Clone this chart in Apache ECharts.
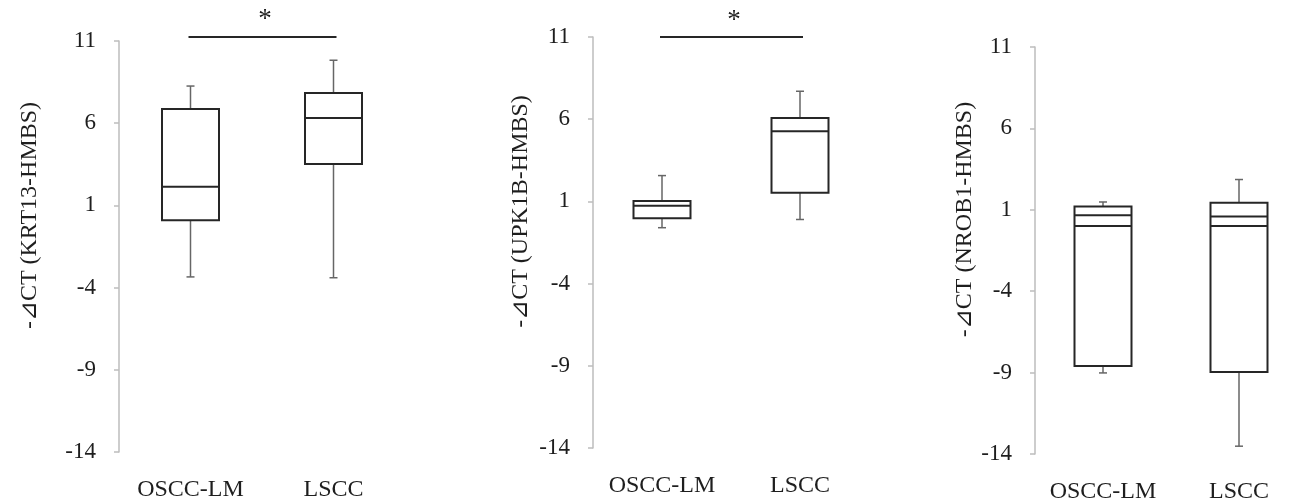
<!DOCTYPE html>
<html>
<head>
<meta charset="utf-8">
<script src="https://cdn.jsdelivr.net/npm/echarts@6/dist/echarts.min.js"></script>
<style>
  html, body { margin: 0; padding: 0; background: #fff; }
  #chart { width: 1307px; height: 504px; }
</style>
</head>
<body>
<div id="chart"></div>
<script>
// groups on the x axis
const categories = ['OSCC-LM', 'LSCC'];
// y ticks: -14 .. 11 step 5
const yMin = -14;
const yMax = 11;
const yStep = 5;

// five-number summaries [min, q1, median, q3, max], one row per group
const krt13 = [[-3.35, 0.1, 2.13, 6.87, 8.26], [-3.4, 3.52, 6.32, 7.84, 9.83]];
const upk1b = [[-0.6, -0.03, 0.74, 1.02, 2.57], [-0.1, 1.53, 5.26, 6.07, 7.7]];
const nrob1 = [[-9.02, -8.6, 0.67, 1.2, 1.48], [-13.52, -8.96, 0.59, 1.44, 2.86]];
// extra line drawn inside the NROB1 boxes (at zero)
const nrob1Extra = [0, 0];

const titles = ['-⊿CT (KRT13-HMBS)', '-⊿CT (UPK1B-HMBS)', '-⊿CT (NROB1-HMBS)'];
// significance bar height per panel (null = none)
const sigLevel = [11.25, 11.0, null];
const sigMark = ['*', '*', ''];

const panels = [krt13, upk1b, nrob1];
const extras = [null, null, nrob1Extra];

const FONT = '"Liberation Serif", "Times New Roman", "DejaVu Serif", serif';
const grids = [
  { left: 119, top: 41, width: 286, height: 411 },
  { left: 593, top: 37, width: 276, height: 411 },
  { left: 1035, top: 47, width: 291, height: 411 }
];
const nameGaps = [77, 60, 58];

function renderBox(params, api) {
  const i = api.value(0);
  const pMin = api.coord([i, api.value(1)]);
  const pQ1 = api.coord([i, api.value(2)]);
  const pMed = api.coord([i, api.value(3)]);
  const pQ3 = api.coord([i, api.value(4)]);
  const pMax = api.coord([i, api.value(5)]);
  const extra = api.value(6);
  const cx = pMed[0];
  const hw = 28.5;
  const cap = 4;
  const whisk = { stroke: '#666', lineWidth: 1.5 };
  const boxStyle = { stroke: '#262626', lineWidth: 2 };
  const children = [
    { type: 'line', shape: { x1: cx, y1: pQ3[1], x2: cx, y2: pMax[1] }, style: whisk },
    { type: 'line', shape: { x1: cx - cap, y1: pMax[1], x2: cx + cap, y2: pMax[1] }, style: whisk },
    { type: 'line', shape: { x1: cx, y1: pQ1[1], x2: cx, y2: pMin[1] }, style: whisk },
    { type: 'line', shape: { x1: cx - cap, y1: pMin[1], x2: cx + cap, y2: pMin[1] }, style: whisk },
    {
      type: 'rect',
      shape: { x: cx - hw, y: pQ3[1], width: hw * 2, height: pQ1[1] - pQ3[1] },
      style: Object.assign({ fill: '#fff' }, boxStyle)
    },
    { type: 'line', shape: { x1: cx - hw, y1: pMed[1], x2: cx + hw, y2: pMed[1] }, style: boxStyle }
  ];
  if (!isNaN(extra)) {
    const pE = api.coord([i, extra]);
    children.push({ type: 'line', shape: { x1: cx - hw, y1: pE[1], x2: cx + hw, y2: pE[1] }, style: boxStyle });
  }
  return { type: 'group', children: children };
}

function renderSig(params, api) {
  const a = api.coord([api.value(0), api.value(2)]);
  const b = api.coord([api.value(1), api.value(2)]);
  return {
    type: 'group',
    children: [
      { type: 'line', shape: { x1: a[0] - 2, y1: a[1], x2: b[0] + 3, y2: b[1] }, style: { stroke: '#262626', lineWidth: 2 } },
      {
        type: 'text',
        style: {
          text: sigMark[params.seriesIndex - 3],
          x: (a[0] + b[0]) / 2 + 3, y: a[1] - 3,
          align: 'center', verticalAlign: 'bottom',
          font: '27px ' + FONT, fill: '#1e1e1e'
        }
      }
    ]
  };
}

const xAxes = grids.map((g, k) => ({
  type: 'category',
  gridIndex: k,
  data: categories,
  boundaryGap: true,
  axisLine: { show: false },
  axisTick: { show: false },
  axisLabel: { interval: 0, fontFamily: FONT, fontSize: 24, color: '#1e1e1e', margin: 26 }
}));

const yAxes = grids.map((g, k) => ({
  type: 'value',
  gridIndex: k,
  min: yMin,
  max: yMax,
  interval: yStep,
  name: titles[k],
  nameLocation: 'middle',
  nameRotate: 90,
  nameGap: nameGaps[k],
  nameTextStyle: { fontFamily: FONT, fontSize: 24, color: '#1e1e1e', padding: [0, 0, 0, 62] },
  axisLine: { show: true, lineStyle: { color: '#bdbdbd', width: 1.5 } },
  axisTick: { show: true, length: 5, lineStyle: { color: '#bdbdbd', width: 1.5 } },
  splitLine: { show: false },
  axisLabel: { fontFamily: FONT, fontSize: 23, color: '#1e1e1e', margin: 23 }
}));

const boxSeries = panels.map((rows, k) => ({
  type: 'custom',
  xAxisIndex: k,
  yAxisIndex: k,
  renderItem: renderBox,
  clip: false,
  data: rows.map((r, i) => [i].concat(r, [extras[k] ? extras[k][i] : '-']))
}));

const sigSeries = sigLevel.map((lvl, k) => ({
  type: 'custom',
  xAxisIndex: k,
  yAxisIndex: k,
  renderItem: renderSig,
  clip: false,
  data: lvl === null ? [] : [[0, 1, lvl]]
}));

const chart = echarts.init(document.getElementById('chart'));
chart.setOption({
  animation: false,
  backgroundColor: '#fff',
  grid: grids,
  xAxis: xAxes,
  yAxis: yAxes,
  series: boxSeries.concat(sigSeries)
});
window.addEventListener('resize', () => chart.resize());
</script>
</body>
</html>
